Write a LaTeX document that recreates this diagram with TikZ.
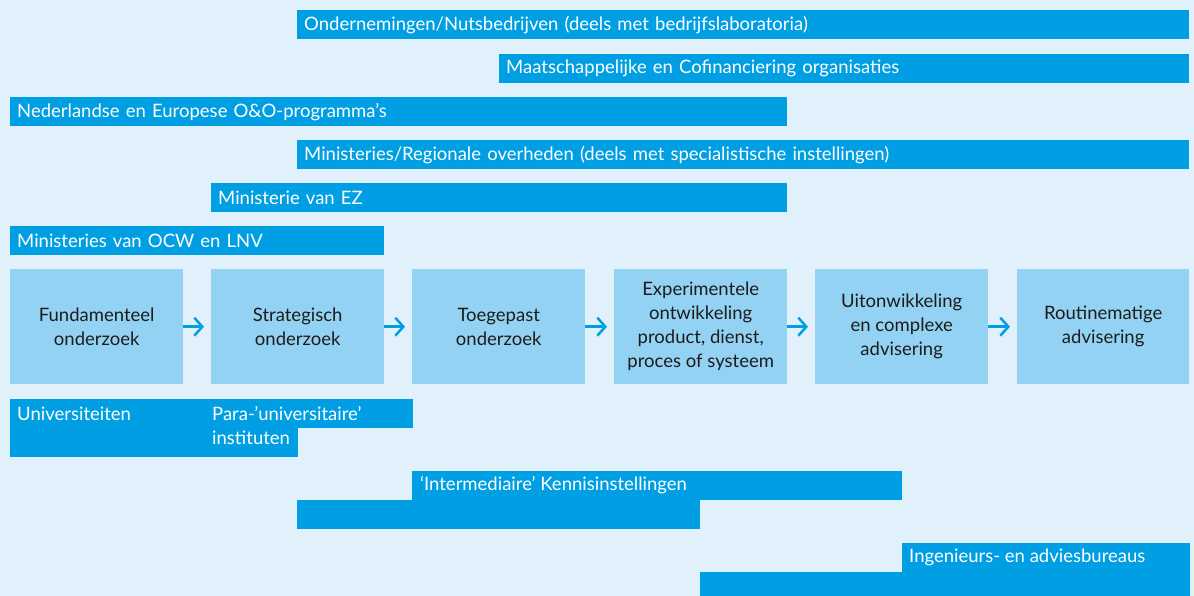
\documentclass[tikz,border=0pt]{standalone}
\usepackage{fontspec}
\setmainfont{Lato}
\usetikzlibrary{arrows.meta}
\definecolor{bgblue}{HTML}{E1F1FB}
\definecolor{barblue}{HTML}{009FE3}
\definecolor{boxblue}{HTML}{94D2F4}
\definecolor{ink}{HTML}{1C1C1C}
\tikzset{
  txt/.style={font=\fontsize{18.5}{24}\selectfont},
  orgbar/.style={txt, fill=barblue, text=white, anchor=north west,
    minimum height=29pt, inner xsep=7pt, inner ysep=0pt, align=left},
  bartext/.style={txt, text=white, anchor=west, inner sep=0pt, align=left},
  stage/.style={txt, fill=boxblue, text=ink, anchor=north west,
    minimum width=173pt, minimum height=115pt, inner sep=0pt, align=center},
  flow/.style={draw=barblue, line width=2.5pt, shorten >=7pt,
    -{Straight Barb[length=8pt,width=18pt,line width=2.5pt]}}
}
\begin{document}
\begin{tikzpicture}[x=1pt,y=-1pt]
\fill[bgblue] (0,0) rectangle (1194,596);
\useasboundingbox (0,0) rectangle (1194,596);

% financing organisations
\node[orgbar, minimum width=892pt, text width=878pt] (ond) at (297,10)
  {Ondernemingen/Nutsbedrijven (deels met bedrijfslaboratoria)};
\node[orgbar, minimum width=690pt, text width=676pt] (maa) at (499,54)
  {Maatschappelijke en Cofinanciering organisaties};
\node[orgbar, minimum width=777pt, text width=763pt] (ned) at (10,97)
  {Nederlandse en Europese O\&O-programma’s};
\node[orgbar, minimum width=892pt, text width=878pt] (minreg) at (297,140)
  {Ministeries/Regionale overheden (deels met specialistische instellingen)};
\node[orgbar, minimum width=576pt, text width=562pt] (ez) at (211,183)
  {Ministerie van EZ};
\node[orgbar, minimum width=374pt, text width=360pt] (ocw) at (10,226)
  {Ministeries van OCW en LNV};

% research stages
\node[stage] (s1) at (10,269) {Fundamenteel\\onderzoek};
\node[stage] (s2) at (211,269) {Strategisch\\onderzoek};
\node[stage] (s3) at (412,269) {Toegepast\\onderzoek};
\node[stage] (s4) at (614,269) {Experimentele\\ontwikkeling\\product, dienst,\\proces of systeem};
\node[stage] (s5) at (815,269) {Uitonwikkeling\\en complexe\\advisering};
\node[stage, minimum width=172pt] (s6) at (1017,269) {Routinematige\\advisering};

\draw[flow] (s1.east) -- (s2.west);
\draw[flow] (s2.east) -- (s3.west);
\draw[flow] (s3.east) -- (s4.west);
\draw[flow] (s4.east) -- (s5.west);
\draw[flow] (s5.east) -- (s6.west);

% performing institutions
\fill[barblue] (10,399) rectangle (298,457);
\fill[barblue] (211,399) rectangle (413,428);
\node[bartext] (uni) at (17,413.5) {Universiteiten};
\node[bartext] (para) at (212,425.5) {Para-’universitaire’\\instituten};

\fill[barblue] (412,471) rectangle (902,500);
\fill[barblue] (297,500) rectangle (700,529);
\node[bartext] (inter) at (420,485.5) {‘Intermediaire’ Kennisinstellingen};

\fill[barblue] (902,543) rectangle (1190,572);
\fill[barblue] (700,572) rectangle (1190,596);
\node[bartext] (ing) at (909,557.5) {Ingenieurs- en adviesbureaus};
\end{tikzpicture}
\end{document}
